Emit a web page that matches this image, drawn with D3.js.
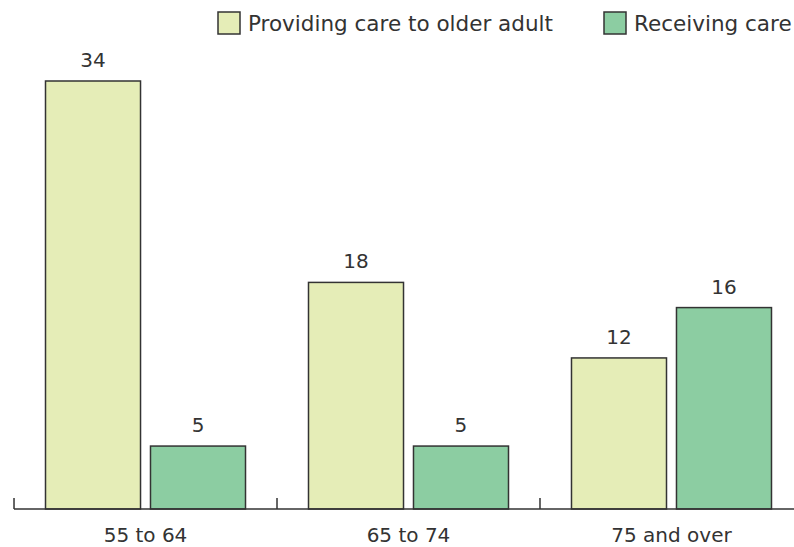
<!DOCTYPE html>
<html>
<head>
<meta charset="utf-8">
<script src="https://cdn.jsdelivr.net/npm/d3@7"></script>
<style>
  body { margin: 0; background: #fff; }
  svg text { font-family: "DejaVu Sans", sans-serif; fill: #333; }
</style>
</head>
<body>
<svg id="chart" width="794" height="547"></svg>
<script>
const categories = ["55 to 64", "65 to 74", "75 and over"];
const seriesNames = ["Providing care to older adult", "Receiving care"];
const providing = [34, 18, 12];
const receiving = [5, 5, 16];
const colors = ["#e5edb7", "#8ccda2"];

const svg = d3.select("#chart");
const baseY = 509;

const x0 = d3.scaleBand()
    .domain(categories)
    .range([14, 803])
    .paddingInner(0.2395)
    .paddingOuter(0.1198);
const x1 = d3.scaleBand()
    .domain(seriesNames)
    .range([0, x0.bandwidth()])
    .paddingInner(0.095);
const y = d3.scaleLinear()
    .domain([0, 34])
    .range([baseY, 81]);

const rows = categories.map((c, i) => ({cat: c, values: [providing[i], receiving[i]]}));

const groups = svg.selectAll("g.grp")
    .data(rows)
    .enter()
    .append("g")
    .attr("class", "grp")
    .attr("transform", d => `translate(${x0(d.cat)},0)`);

const cells = groups.selectAll("g.cell")
    .data(d => d.values.map((v, j) => ({name: seriesNames[j], value: v, j: j})))
    .enter()
    .append("g")
    .attr("class", "cell");

cells.append("rect")
    .attr("x", d => x1(d.name))
    .attr("y", d => y(d.value))
    .attr("width", x1.bandwidth())
    .attr("height", d => baseY - y(d.value))
    .attr("fill", d => colors[d.j])
    .attr("stroke", "#333")
    .attr("stroke-width", 1.5);

cells.append("text")
    .attr("x", d => x1(d.name) + x1.bandwidth() / 2)
    .attr("y", d => y(d.value) - 14)
    .attr("text-anchor", "middle")
    .attr("font-size", "20px")
    .text(d => d.value);

// x axis: baseline plus ticks between groups
const xAxis = svg.append("g")
    .attr("transform", `translate(0,${baseY})`);
xAxis.append("line")
    .attr("x1", 14).attr("x2", 803)
    .attr("stroke", "#333").attr("stroke-width", 1.5);
const gap = (x0.step() - x0.bandwidth()) / 2;
const tickXs = categories.map(c => x0(c) - gap);
tickXs.push(x0(categories[categories.length - 1]) + x0.bandwidth() + gap);
xAxis.selectAll("line.tick")
    .data(tickXs)
    .enter()
    .append("line")
    .attr("class", "tick")
    .attr("x1", d => d).attr("x2", d => d)
    .attr("y1", -11).attr("y2", 0)
    .attr("stroke", "#333").attr("stroke-width", 1.5);
xAxis.selectAll("text")
    .data(categories)
    .enter()
    .append("text")
    .attr("x", d => x0(d) + x0.bandwidth() / 2)
    .attr("y", 33)
    .attr("text-anchor", "middle")
    .attr("font-size", "20px")
    .text(d => d);

// legend
const legendItems = [
    {name: seriesNames[0], color: colors[0], x: 218},
    {name: seriesNames[1], color: colors[1], x: 604}
];
const legend = svg.selectAll("g.legend")
    .data(legendItems)
    .enter()
    .append("g")
    .attr("class", "legend")
    .attr("transform", d => `translate(${d.x},12)`);
legend.append("rect")
    .attr("width", 22).attr("height", 22)
    .attr("fill", d => d.color)
    .attr("stroke", "#333").attr("stroke-width", 1.5);
legend.append("text")
    .attr("x", 30)
    .attr("y", 19)
    .attr("font-size", "21.5px")
    .text(d => d.name);
</script>
</body>
</html>
